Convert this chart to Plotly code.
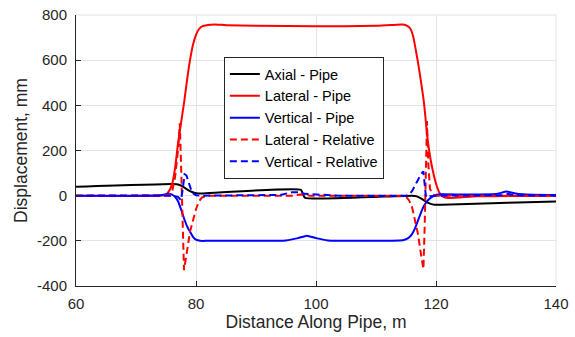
import plotly.graph_objects as go

# Axial - Pipe
ax_x = [60, 76, 76.8, 77.5, 78.2, 79, 79.7, 80.5, 81, 97.5, 97.8, 98.2, 116, 116.8, 117.5, 118.2, 119, 119.8, 121, 132, 140]
ax_y = [40, 52, 51, 45, 33, 20, 13, 10, 10, 26, 8, -10, 0, -3, -12, -24, -35, -40, -40, -31, -26]

# Lateral - Pipe
lp_x = [60, 74, 75, 75.5, 76, 76.5, 77, 77.5, 78, 78.5, 79, 79.5, 80, 80.5, 81, 82, 83, 85, 90, 100, 110, 113, 114.5, 115.2, 115.7, 116.2, 116.6, 117, 117.5, 118, 118.6, 119.1, 119.6, 120.1, 120.6, 121.2, 122, 124, 127, 140]
lp_y = [0, 0, 5, 20, 50, 120, 230, 320, 410, 510, 600, 668, 712, 738, 750, 756, 758, 755, 752, 750, 752, 756, 758, 752, 740, 705, 650, 590, 505, 410, 250, 160, 95, 45, 12, -5, -10, -8, -3, 0]

# Vertical - Pipe
vp_x = [60, 74, 75.5, 76, 76.5, 77, 77.5, 78, 78.5, 79, 79.5, 80, 80.7, 82, 95, 97, 98.5, 100, 102, 114.5, 115, 115.5, 116, 116.5, 117, 117.5, 118, 118.5, 119, 119.5, 120, 121, 125, 130, 131.8, 133.5, 135, 140]
vp_y = [0, 2, 8, 5, -5, -25, -60, -100, -135, -160, -182, -195, -200, -200, -198, -188, -177, -188, -198, -197, -193, -185, -170, -145, -110, -75, -45, -25, -12, -3, 3, 6, 5, 7, 18, 8, 5, 3]

# Lateral - Relative
lr_x = [60, 75.5, 76, 76.5, 77, 77.3, 77.55, 77.8, 78.0, 78.3, 78.7, 79, 79.5, 80, 80.5, 81, 82, 96, 97.5, 98, 99, 114.5, 115, 115.5, 116, 116.5, 117, 117.5, 117.9, 118.1, 118.3, 118.5, 118.7, 119, 119.5, 120, 140]
lr_y = [0, 2, 15, 80, 200, 320, 100, -200, -330, -280, -200, -160, -110, -60, -25, -8, 0, 0, 5, 3, 0, 0, -5, -20, -50, -110, -170, -260, -325, -150, 150, 330, 150, 30, 5, 0, 0]

# Vertical - Relative
vr_x = [60, 76, 77, 77.5, 77.8, 78.1, 78.4, 78.8, 79.2, 79.6, 80, 81, 94, 96, 97.5, 98, 101, 104, 115, 115.5, 116, 116.5, 117, 117.5, 117.9, 118.1, 118.3, 118.6, 119, 120, 131, 132, 133, 140]
vr_y = [0, 0, -5, -20, 30, 95, 90, 60, 25, 8, 2, 0, 3, 15, 15, 8, 3, 0, 0, 5, 20, 45, 70, 95, 108, 60, 0, -10, -3, 0, 2, 8, 2, 0]

x_ticks = [60, 80, 100, 120, 140]
y_ticks = [-400, -200, 0, 200, 400, 600, 800]
y_ticktext = ["-400", "-200", "0", "200", "400", "600", "800"]

FONT = "Liberation Sans, Arial, sans-serif"
fig = go.Figure()
fig.add_trace(go.Scatter(x=ax_x, y=ax_y, mode="lines", name="Axial - Pipe",
                         line=dict(color="black", width=2, shape="spline", smoothing=0.5)))
fig.add_trace(go.Scatter(x=lp_x, y=lp_y, mode="lines", name="Lateral - Pipe",
                         line=dict(color="#ff0000", width=2, shape="spline", smoothing=0.5)))
fig.add_trace(go.Scatter(x=vp_x, y=vp_y, mode="lines", name="Vertical - Pipe",
                         line=dict(color="#0000ff", width=2, shape="spline", smoothing=0.5)))
fig.add_trace(go.Scatter(x=lr_x, y=lr_y, mode="lines", name="Lateral - Relative",
                         line=dict(color="#ff0000", width=2, dash="7px,4px")))
fig.add_trace(go.Scatter(x=vr_x, y=vr_y, mode="lines", name="Vertical - Relative",
                         line=dict(color="#0000ff", width=2, dash="7px,4px")))

tick_font = dict(family=FONT, size=15, color="#262626")
fig.update_layout(
    width=575, height=337,
    margin=dict(l=76, r=19, t=15, b=51),
    paper_bgcolor="white", plot_bgcolor="white",
    font=tick_font,
    showlegend=True,
    legend=dict(x=0.308, y=0.845, xanchor="left", yanchor="top",
                bgcolor="white", bordercolor="#262626", borderwidth=1,
                font=dict(family=FONT, size=14.5, color="#000000"),
                tracegroupgap=0, itemwidth=30),
    xaxis=dict(range=[60, 140], tickvals=x_ticks, showgrid=True, gridcolor="#e3e3e3",
               zeroline=False, showline=True, linecolor="#262626", linewidth=1,
               ticks="inside", ticklen=5, tickcolor="#262626", ticklabelstandoff=4,
               automargin=False,
               title=dict(text="Distance Along Pipe, m", font=dict(family=FONT, size=17.5, color="#262626"), standoff=4),
               tickfont=tick_font),
    yaxis=dict(range=[-400, 800], tickvals=y_ticks, ticktext=y_ticktext, showgrid=True, gridcolor="#e3e3e3",
               zeroline=False, showline=True, linecolor="#262626", linewidth=1,
               ticks="inside", ticklen=5, tickcolor="#262626", ticklabelstandoff=5,
               automargin=False,
               title=dict(text="Displacement, mm", font=dict(family=FONT, size=17.5, color="#262626"), standoff=4),
               tickfont=tick_font),
)
fig.add_shape(type="line", xref="paper", yref="paper", x0=0, x1=1, y0=1, y1=1,
              line=dict(color="#e3e3e3", width=1), layer="below")
fig.add_shape(type="line", xref="paper", yref="paper", x0=1, x1=1, y0=0, y1=1,
              line=dict(color="#e3e3e3", width=1), layer="below")
fig.write_html("out.html")
